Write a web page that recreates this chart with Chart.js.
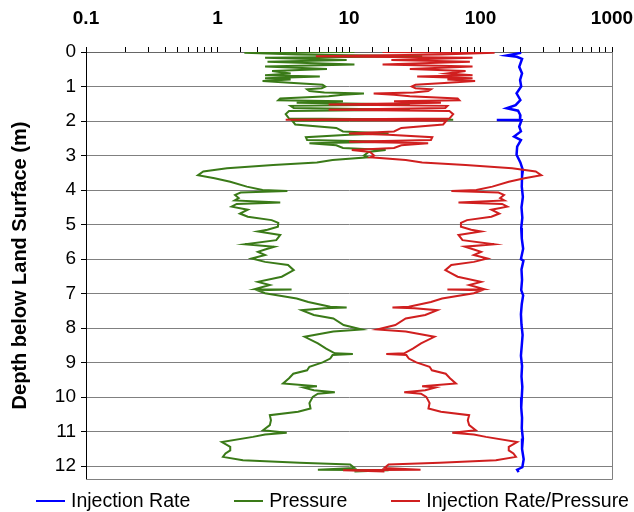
<!DOCTYPE html>
<html>
<head>
<meta charset="utf-8">
<script src="https://cdn.jsdelivr.net/npm/chart.js@4"></script>
<style>
  body { margin:0; background:#fff; }
  #wrap { position:relative; width:634px; height:512px; }
  #legend { position:absolute; left:36px; top:488px; display:flex; gap:44px;
            font-family:"Liberation Sans", Arial, sans-serif; font-size:19.5px; color:#000; line-height:24px; }
  #legend .item { display:flex; align-items:center; white-space:nowrap; }
  #legend .swatch { display:inline-block; width:29px; height:2px; margin-right:6px; margin-top:2px; }
</style>
</head>
<body>
<div id="wrap">
  <canvas id="chart" width="634" height="512"></canvas>
  <div id="legend"></div>
</div>
<script>
// depth (m) for the pressure log, and the values read at those depths
const depthPts = [0.00,0.02,0.07,0.12,0.17,0.23,0.28,0.36,0.42,0.49,0.55,0.62,0.67,0.71,0.76,0.80,0.84,0.90,0.95,1.00,
  1.05,1.08,1.13,1.17,1.20,1.24,1.28,1.35,1.40,1.43,1.47,1.52,1.56,1.62,1.67,1.71,1.80,1.93,1.96,1.99,
  2.10,2.20,2.30,2.36,2.40,2.47,2.55,2.60,2.64,2.70,2.78,2.84,2.90,3.00,3.05,3.13,3.20,3.27,3.37,3.46,
  3.57,3.66,3.76,3.90,4.00,4.03,4.07,4.14,4.23,4.30,4.36,4.40,4.48,4.57,4.68,4.77,4.87,4.95,5.06,5.15,
  5.20,5.30,5.45,5.57,5.64,5.72,5.79,5.88,5.98,6.08,6.17,6.32,6.51,6.66,6.75,6.87,6.88,6.90,6.99,7.14,
  7.24,7.38,7.40,7.42,7.48,7.62,7.72,7.91,8.04,8.10,8.25,8.44,8.59,8.73,8.75,8.78,8.88,8.99,9.12,9.22,
  9.32,9.45,9.60,9.68,9.72,9.80,9.86,9.90,9.99,10.17,10.33,10.42,10.52,10.67,10.81,10.96,11.03,11.08,11.15,11.30,
  11.44,11.54,11.63,11.73,11.83,11.90,11.95,12.05,12.10,12.12,12.15];

const pressure = [11,1.6,4.0,36,2.3,9.6,2.4,11,2.3,6.8,2.6,3.6,2.3,6.0,2.3,3.6,2.2,3.8,6.3,6.6,
  6.2,4.8,5.0,6.5,13,9.0,7.0,3.0,2.9,9.0,4.0,29,3.6,3.8,29,3.5,3.3,3.5,62,3.7,
  3.9,8.0,9.0,20,10,4.7,4.8,20,5.0,8.0,9.0,19,14,13,14,7.5,5.7,2.65,1.18,0.78,
  0.71,0.95,1.25,1.67,2.2,3.4,1.5,1.36,1.45,1.35,3.0,1.4,1.28,1.7,1.48,1.7,2.58,2.9,2.88,2.4,
  2.03,3.0,2.8,1.62,2.7,2.3,2.03,2.3,1.82,2.3,3.44,3.8,3.08,2.03,2.5,1.93,3.66,2.0,2.3,4.0,
  4.9,7.2,9.6,6.5,4.36,5.4,7.6,9.1,12.5,7.6,4.6,5.8,6.7,7.8,10.7,7.5,7.2,6.3,5.0,4.8,
  3.77,3.5,3.15,5.7,4.5,5.4,7.8,5.8,5.3,5.0,5.1,4.1,2.5,2.55,2.5,2.22,3.36,2.3,1.86,1.08,
  1.25,1.25,1.15,1.1,1.56,4.2,10.2,11,5.8,20,11];

const ratio = [18,128,50,5.6,87,21,83,18,87,29,77,56,87,33,87,56,91,53,32,30,
  32,42,40,31,15.4,22,29,67,69,22,50,7.0,56,54,7.0,58,62,58,3.3,55,
  52,25,22,10,20,43,42,10,40,25,22,10.5,14.5,15.5,14.5,27,36,77,174,263,
  290,216,164,123,93,60,137,151,141,152,68,146,160,121,139,121,79,71,71,85,
  101,68,73,127,76,89,101,89,113,89,60,54,67,101,82,106,56,103,89,51,
  42,28.5,21.4,31.5,47,38,27,22.5,16.4,27,44.6,35.3,30.6,26.3,19.2,27.3,28.5,32.5,41,42.7,
  54.4,58.6,65,36,45.6,38,26.3,35.3,38.7,41,40.2,50,82,80,82,92,61,89,110,190,
  164,164,178,186,131,49,20,18.6,35,9,18.6];

// injection rate log
const rateDepth = [0.00,0.03,0.10,0.14,0.20,0.43,0.62,0.81,1.00,1.20,1.39,1.54,1.63,1.70,1.83,1.96,1.97,1.98,2.16,2.30,
  2.45,2.55,2.74,2.98,3.20,3.42,3.60,3.90,4.20,4.50,4.80,5.10,5.40,5.70,6.00,6.05,6.30,6.60,6.90,7.05,
  7.30,7.60,7.90,8.20,8.50,8.80,9.10,9.40,9.70,10.00,10.30,10.60,10.90,11.20,11.50,11.80,12.03,12.10,12.17];
const rate = [200,200,158,189,207,197,207,200,204,188,201,185,158,193,201,200,133,205,197,203,
  180,203,190,188,201,210,207,206,210,205,208,204,206,211,203,212,205,207,204,211,
  206,203,205,209,206,203,207,205,208,206,204,207,206,210,207,213,208,190,195];

const xLabels = [0.1, 1, 10, 100, 1000];
const yTicks = [0, 1, 2, 3, 4, 5, 6, 7, 8, 9, 10, 11, 12];
const seriesNames = ['Injection Rate', 'Pressure', 'Injection Rate/Pressure'];
const seriesColors = ['#0000ff', '#3a7a18', '#d01f1f'];

const FONT = '"Liberation Sans", Arial, sans-serif';
const pts = (ds, vs) => ds.map((d, i) => ({ x: vs[i], y: d }));

// right + bottom frame of the plot box
const frame = {
  id: 'frame',
  beforeDatasetsDraw(chart) {
    const { ctx, chartArea: a } = chart;
    ctx.save();
    ctx.strokeStyle = '#808080';
    ctx.lineWidth = 1;
    ctx.beginPath();
    ctx.moveTo(a.right + 0.5, a.top);
    ctx.lineTo(a.right + 0.5, a.bottom + 0.5);
    ctx.lineTo(a.left, a.bottom + 0.5);
    ctx.stroke();
    ctx.restore();
  }
};

const chart = new Chart(document.getElementById('chart'), {
  type: 'scatter',
  data: {
    datasets: [
      { label: seriesNames[0], data: pts(rateDepth, rate), borderColor: seriesColors[0], backgroundColor: seriesColors[0], borderWidth: 2.5, order: 2 },
      { label: seriesNames[1], data: pts(depthPts, pressure), borderColor: seriesColors[1], backgroundColor: seriesColors[1], borderWidth: 2, order: 1 },
      { label: seriesNames[2], data: pts(depthPts, ratio), borderColor: seriesColors[2], backgroundColor: seriesColors[2], borderWidth: 2, order: 0 }
    ]
  },
  options: {
    responsive: false,
    animation: false,
    showLine: true,
    elements: { point: { radius: 0, hoverRadius: 0 }, line: { tension: 0 } },
    layout: { padding: { left: 0, right: 22, top: 0, bottom: 33 } },
    plugins: { legend: { display: false }, tooltip: { enabled: false } },
    scales: {
      x: {
        type: 'logarithmic', position: 'top', min: 0.1, max: 1000,
        afterFit: s => { s.height = 52; s.paddingLeft = 0; s.paddingRight = 0; },
        ticks: {
          autoSkip: false, maxRotation: 0, padding: 17, color: '#000',
          font: { family: FONT, size: 19, weight: 'bold' },
          callback: v => xLabels.some(t => Math.abs(v / t - 1) < 1e-6) ? String(v) : ''
        },
        grid: { drawOnChartArea: false, tickLength: 5, tickColor: '#000' },
        border: { color: '#666' }
      },
      y: {
        reverse: true, min: 0, max: 12.37,
        afterBuildTicks: s => { s.ticks = yTicks.map(v => ({ value: v })); },
        afterFit: s => { s.width = 86; },
        ticks: { padding: 5, color: '#000', font: { family: FONT, size: 19 } },
        grid: { color: '#808080', tickColor: '#000', tickLength: 5 },
        border: { color: '#000' },
        title: { display: true, text: 'Depth below Land Surface (m)', color: '#000',
                 font: { family: FONT, size: 20, weight: 'bold' }, padding: { top: 8, bottom: 0 } }
      }
    }
  },
  plugins: [frame]
});

// legend built from the datasets
document.getElementById('legend').innerHTML = chart.data.datasets.map(ds =>
  `<span class="item"><span class="swatch" style="background:${ds.borderColor}"></span>${ds.label}</span>`).join('');
</script>
</body>
</html>
